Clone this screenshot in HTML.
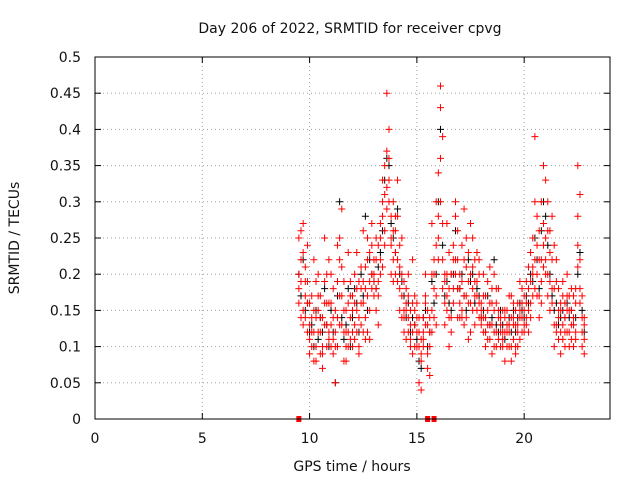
<!DOCTYPE html>
<html><head><meta charset="utf-8"><style>
body{margin:0;background:#fff}
svg{display:block;font-family:"DejaVu Sans","Liberation Sans",sans-serif}
</style></head><body>
<svg id="chart" width="640" height="480">
<text x="350" y="33" text-anchor="middle" font-size="14" fill="#111">Day 206 of 2022, SRMTID for receiver cpvg</text>
<text x="352" y="471" text-anchor="middle" font-size="14" fill="#111">GPS time / hours</text>
<text transform="translate(19,238) rotate(-90)" text-anchor="middle" font-size="14" fill="#111">SRMTID / TECUs</text>
<g id="grid"></g><g id="ticks"></g><g id="marks"></g>
<rect x="95" y="57" width="515" height="362" fill="none" stroke="#000" stroke-width="1"/>
</svg>
<script>
const hours=[9.5,9.6,9.7,9.8,9.9,
10.0,10.1,10.2,10.3,10.4,10.5,10.6,10.7,10.8,10.9,
11.0,11.1,11.2,11.3,11.4,11.5,11.6,11.7,11.8,11.9,
12.0,12.1,12.2,12.3,12.4,12.5,12.6,12.7,12.8,12.9,
13.0,13.1,13.2,13.3,13.4,13.5,13.6,13.7,13.8,13.9,
14.0,14.1,14.2,14.3,14.4,14.5,14.6,14.7,14.8,14.9,
15.0,15.1,15.2,15.3,15.4,15.5,15.6,15.7,15.8,15.9,
16.0,16.1,16.2,16.3,16.4,16.5,16.6,16.7,16.8,16.9,
17.0,17.1,17.2,17.3,17.4,17.5,17.6,17.7,17.8,17.9,
18.0,18.1,18.2,18.3,18.4,18.5,18.6,18.7,18.8,18.9,
19.0,19.1,19.2,19.3,19.4,19.5,19.6,19.7,19.8,19.9,
20.0,20.1,20.2,20.3,20.4,20.5,20.6,20.7,20.8,20.9,
21.0,21.1,21.2,21.3,21.4,21.5,21.6,21.7,21.8,21.9,
22.0,22.1,22.2,22.3,22.4,22.5,22.6,22.7,22.8];
const red1=[0.18,0.26,0.15,0.21,0.12,
0.09,0.14,0.22,0.08,0.12,0.17,0.07,0.13,0.2,0.11,
0.13,0.18,0.05,0.1,0.22,0.29,0.12,0.08,0.16,0.11,
0.12,0.2,0.15,0.09,0.18,0.26,0.14,0.22,0.11,0.24,
0.17,0.22,0.13,0.25,0.3,0.35,0.45,0.4,0.28,0.22,
0.2,0.33,0.18,0.25,0.15,0.11,0.2,0.13,0.09,0.17,
0.12,0.05,0.09,0.14,0.2,0.07,0.1,0.27,0.18,0.13,
0.34,0.46,0.39,0.2,0.15,0.23,0.12,0.18,0.28,0.22,
0.16,0.24,0.13,0.21,0.11,0.27,0.18,0.22,0.15,0.2,
0.13,0.17,0.1,0.15,0.21,0.09,0.12,0.18,0.11,0.14,
0.12,0.08,0.15,0.1,0.17,0.13,0.09,0.16,0.11,0.18,
0.15,0.19,0.12,0.23,0.17,0.39,0.2,0.14,0.3,0.35,
0.33,0.26,0.19,0.28,0.1,0.22,0.14,0.09,0.17,0.12,
0.15,0.1,0.18,0.13,0.16,0.35,0.22,0.12,0.09];
const red2=[0.25,0.14,0.27,0.17,0.19,
0.16,0.1,0.12,0.19,0.15,0.09,0.14,0.25,0.1,0.16,
0.2,0.09,0.15,0.14,0.25,0.17,0.19,0.1,0.23,0.14,
0.17,0.11,0.23,0.19,0.13,0.16,0.21,0.12,0.19,0.27,
0.2,0.15,0.19,0.27,0.21,0.31,0.37,0.33,0.24,0.3,
0.26,0.22,0.21,0.14,0.19,0.16,0.12,0.15,0.22,0.1,
0.16,0.1,0.04,0.12,0.17,0.13,0.06,0.15,0.22,0.3,
0.25,0.43,0.18,0.13,0.27,0.1,0.2,0.16,0.3,0.14,
0.2,0.14,0.29,0.17,0.23,0.12,0.25,0.13,0.19,0.16,
0.16,0.12,0.14,0.19,0.11,0.16,0.2,0.1,0.15,0.12,
0.1,0.14,0.12,0.17,0.08,0.11,0.15,0.13,0.19,0.14,
0.12,0.16,0.21,0.14,0.25,0.18,0.28,0.22,0.16,0.24,
0.22,0.3,0.15,0.18,0.24,0.13,0.18,0.15,0.11,0.16,
0.2,0.17,0.11,0.14,0.12,0.24,0.31,0.17,0.13];
const red3=[0.16,0.22,0.13,0.19,0.24,
0.11,0.17,0.08,0.14,0.2,0.12,0.1,0.16,0.13,0.22,
0.1,0.14,0.12,0.24,0.17,0.13,0.08,0.15,0.12,0.19,
0.15,0.13,0.18,0.1,0.21,0.12,0.18,0.25,0.15,0.2,
0.22,0.18,0.24,0.2,0.33,0.26,0.29,0.36,0.2,0.26,
0.23,0.28,0.15,0.2,0.12,0.18,0.14,0.1,0.16,0.13,
0.1,0.14,0.08,0.11,0.13,0.15,0.12,0.2,0.14,0.24,
0.28,0.36,0.22,0.16,0.2,0.18,0.14,0.22,0.2,0.26,
0.18,0.15,0.22,0.14,0.19,0.16,0.21,0.17,0.23,0.14,
0.14,0.2,0.12,0.13,0.16,0.13,0.15,0.12,0.18,0.1,
0.15,0.12,0.1,0.13,0.14,0.16,0.1,0.12,0.14,0.16,
0.17,0.13,0.15,0.19,0.21,0.3,0.24,0.17,0.22,0.27,
0.25,0.2,0.23,0.16,0.13,0.19,0.11,0.16,0.13,0.1,
0.12,0.15,0.13,0.17,0.11,0.28,0.18,0.14,0.11];
const red4=[0.2,0.19,0.23,0.14,0.16,
0.13,0.12,0.15,0.1,0.17,0.14,0.09,0.19,0.16,0.12,
0.16,0.11,0.1,0.19,0.13,0.21,0.15,0.12,0.1,0.17,
0.1,0.16,0.12,0.14,0.16,0.19,0.11,0.17,0.23,0.18,
0.19,0.25,0.17,0.22,0.28,0.24,0.32,0.3,0.25,0.19,
0.28,0.19,0.24,0.17,0.14,0.15,0.17,0.11,0.12,0.15,
0.14,0.12,0.11,0.1,0.16,0.09,0.14,0.12,0.2,0.17,
0.22,0.3,0.27,0.19,0.17,0.14,0.2,0.24,0.22,0.18,
0.14,0.19,0.17,0.25,0.16,0.2,0.15,0.19,0.17,0.22,
0.15,0.14,0.17,0.11,0.13,0.18,0.1,0.16,0.14,0.13,
0.11,0.15,0.13,0.12,0.1,0.14,0.13,0.1,0.15,0.12,
0.13,0.14,0.18,0.16,0.2,0.22,0.17,0.26,0.19,0.21,
0.2,0.17,0.26,0.22,0.18,0.12,0.15,0.12,0.19,0.14,
0.17,0.12,0.15,0.1,0.18,0.21,0.16,0.1,0.14];
const black=[0.2,0.17,0.22,0.15,0.16,
0.12,0.13,0.1,0.15,0.11,0.14,0.12,0.18,0.13,0.1,
0.15,0.12,0.05,0.17,0.3,0.14,0.11,0.13,0.18,0.1,
0.14,0.18,0.16,0.12,0.2,0.17,0.28,0.15,0.22,0.2,
0.19,0.18,0.21,0.23,0.26,0.33,0.36,0.35,0.27,0.25,
0.23,0.29,0.2,0.19,0.17,0.14,0.16,0.12,0.14,0.13,
0.11,0.08,0.07,0.14,0.15,0.1,0.12,0.19,0.16,0.2,
0.3,0.4,0.24,0.17,0.19,0.16,0.15,0.2,0.26,0.18,
0.18,0.2,0.17,0.15,0.22,0.19,0.2,0.16,0.18,0.17,
0.14,0.15,0.12,0.17,0.13,0.14,0.22,0.13,0.12,0.15,
0.13,0.11,0.13,0.14,0.12,0.15,0.12,0.14,0.16,0.15,
0.14,0.17,0.16,0.2,0.19,0.25,0.22,0.18,0.26,0.3,
0.28,0.24,0.2,0.17,0.15,0.16,0.13,0.14,0.15,0.14,
0.16,0.14,0.15,0.13,0.14,0.2,0.23,0.15,0.12];
const zeroHours=[9.5,15.5,15.8];
const xTicks=[0,5,10,15,20];
const yTicks=[0,0.05,0.1,0.15,0.2,0.25,0.3,0.35,0.4,0.45,0.5];
const yTickLabels=["0","0.05","0.1","0.15","0.2","0.25","0.3","0.35","0.4","0.45","0.5"];

const X0=95,X1=610,Y0=419,Y1=57,XMAX=24,YMAX=0.5;
function xs(v){return X0+(v/XMAX)*(X1-X0);}
function ys(v){return Y0-(v/YMAX)*(Y0-Y1);}
const NS="http://www.w3.org/2000/svg";
function mk(tag,attrs,parent){const e=document.createElementNS(NS,tag);for(const k in attrs)e.setAttribute(k,attrs[k]);parent.appendChild(e);return e;}
const grid=document.getElementById('grid'),ticks=document.getElementById('ticks'),marks=document.getElementById('marks');

xTicks.forEach((t,i)=>{
  const x=xs(t);
  if(t>0){const g=mk('line',{x1:x,y1:Y0,x2:x,y2:Y1,stroke:'#a0a0a0','stroke-dasharray':'1,3'},grid);
  
  }
  const tk=mk('line',{x1:x,y1:Y0,x2:x,y2:Y0-6,stroke:'#000'},ticks);
  
  
  mk('line',{x1:x,y1:Y1,x2:x,y2:Y1+6,stroke:'#000'},ticks);
  const l=mk('text',{x:x,y:Y0+24,'text-anchor':'middle','font-size':14,fill:'#111'},ticks);l.textContent=String(t);
  
  
});
yTicks.forEach((t,i)=>{
  const y=ys(t);
  if(t>0&&t<YMAX){const g=mk('line',{x1:X0,y1:y,x2:X1,y2:y,stroke:'#a0a0a0','stroke-dasharray':'1,3'},grid);
  
  }
  const tk=mk('line',{x1:X0,y1:y,x2:X0+6,y2:y,stroke:'#000'},ticks);
  
  
  mk('line',{x1:X1,y1:y,x2:X1-6,y2:y,stroke:'#000'},ticks);
  const l=mk('text',{x:X0-14,y:y+5,'text-anchor':'end','font-size':14,fill:'#111'},ticks);l.textContent=yTickLabels[i];
  
  
});
function plus(h,v,color,name){
  const x=xs(h),y=ys(v);
  const p=mk('path',{d:`M${x-3.5},${y}H${x+3.5}M${x},${y-3.5}V${y+3.5}`,stroke:color,'stroke-width':1,fill:'none'},marks);
  
  
}
hours.forEach((h,i)=>plus(h,black[i],'#000','black-point'));
hours.forEach((h,i)=>plus(h,red1[i],'#f00','red-point'));
hours.forEach((h,i)=>plus(h,red2[i],'#f00','red-point'));
hours.forEach((h,i)=>plus(h,red3[i],'#f00','red-point'));
hours.forEach((h,i)=>plus(h,red4[i],'#f00','red-point'));
zeroHours.forEach(h=>{
  const r=mk('rect',{x:xs(h)-2.5,y:ys(0)-3,width:5,height:6,fill:'#f00'},marks);
  
  
});
</script>
</body></html>
